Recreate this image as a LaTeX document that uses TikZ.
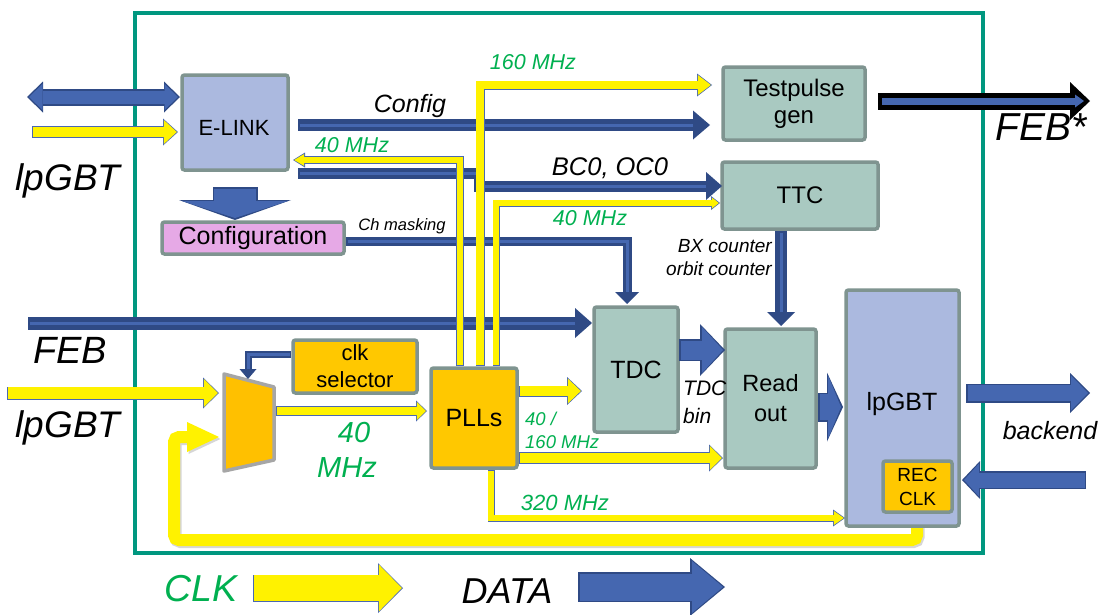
\documentclass[tikz,border=0pt]{standalone}
\usepackage{fontspec}
\setmainfont{Liberation Sans}
\setsansfont{Liberation Sans}
\usetikzlibrary{arrows.meta,calc}
\definecolor{dk}{HTML}{2F4A85}
\definecolor{md}{HTML}{4567B0}
\definecolor{ckedge}{HTML}{4A68B2}
\definecolor{boxedge}{HTML}{7F9490}
\definecolor{bluefill}{HTML}{ABB9DF}
\definecolor{tealfill}{HTML}{A9C9C1}
\definecolor{orng}{HTML}{FFC800}
\definecolor{pinkfill}{HTML}{E6A9E6}
\definecolor{framec}{HTML}{00977F}
\definecolor{grn}{HTML}{00B050}
\definecolor{muxfill}{HTML}{FFC000}
\definecolor{muxedge}{HTML}{A6A6A6}
\newcommand\fsz[2]{\fontsize{#1pt}{#2pt}\selectfont}
\tikzset{
  box/.style={draw=boxedge, line width=3.5pt, rounded corners=2.5pt, inner sep=0pt, align=center},
  lbl/.style={inner sep=0pt},
  glbl/.style={inner sep=0pt, text=grn},
  ck/.style n args={6}{draw=ckedge, line width=#1, -{Triangle[width=#2,length=#3,line width=0pt]},
     postaction={draw=yellow, line width=#4, -{Triangle[width=#5,length=#6,line width=0pt]}, shorten >=1.2pt, shorten <=0.8pt}},
  td/.style n args={3}{draw=dk, line width=#1, -{Triangle[width=#2,length=#3,line width=0pt]},
     postaction={draw=md, line width=3pt, -, shorten >=#3, shorten <=1.5pt}},
  fat/.style n args={6}{draw=dk, line width=#1, -{Triangle[width=#2,length=#3,line width=0pt]},
     postaction={draw=md, line width=#4, -{Triangle[width=#5,length=#6,line width=0pt]}, shorten >=2pt, shorten <=1.5pt}},
  fatb/.style n args={6}{draw=dk, line width=#1, {Triangle[width=#2,length=#3,line width=0pt]}-{Triangle[width=#2,length=#3,line width=0pt]},
     postaction={draw=md, line width=#4, {Triangle[width=#5,length=#6,line width=0pt]}-{Triangle[width=#5,length=#6,line width=0pt]}, shorten >=2pt, shorten <=2pt}},
}
\begin{document}
\begin{tikzpicture}[x=1pt,y=-1pt]
\useasboundingbox (0,0) rectangle (1099,614);
\fill[white] (0,0) rectangle (1099,614);

% frame
\draw[draw=framec, line width=4pt] (135,13) rectangle (983,553);

% REC CLK feedback loop (under boxes)
\coordinate (rcS) at (917,505);
\coordinate (rc1) at (917,540);
\coordinate (rc2) at (174,540);
\coordinate (rc3) at (174,437);
\coordinate (muxIn2) at (219,437);
\draw[black!45, opacity=0.35, line width=12pt, rounded corners=5pt, -{Triangle[width=30pt,length=32pt,line width=0pt]}, transform canvas={shift={(1.5pt,-2pt)}}] (rcS) -- (rc1) -- (rc2) -- (rc3) -- (muxIn2);
\draw[yellow, line width=12pt, rounded corners=5pt, -{Triangle[width=30pt,length=32pt,line width=0pt]}] (rcS) -- (rc1) -- (rc2) -- (rc3) -- (muxIn2);

% boxes
\node[box, fill=bluefill, minimum width=106pt, minimum height=95pt] (elink) at (235,122.5) {};
\node[lbl, anchor=base, font=\fsz{22}{26}] (elinktxt) at (234,135) {E-LINK};
\node[box, fill=pinkfill, minimum width=182pt, minimum height=32pt, font=\fsz{25}{28}] (cfg) at (253,238) {Configuration};
\node[box, fill=tealfill, minimum width=142pt, minimum height=73pt, font=\fsz{24}{27}] (tp) at (794,103.5) {Testpulse\\gen};
\node[box, fill=tealfill, minimum width=156pt, minimum height=67pt, font=\fsz{24}{27}] (ttc) at (800,195.5) {TTC};
\node[box, fill=tealfill, minimum width=84pt, minimum height=125pt, font=\fsz{25}{28}] (tdc) at (636,369.5) {TDC};
\node[box, fill=tealfill, minimum width=91pt, minimum height=139pt, font=\fsz{23.5}{30}] (ro) at (770.5,398.5) {Read\\out};
\node[box, fill=bluefill, minimum width=113pt, minimum height=236pt] (lp) at (902.5,408) {};
\node[lbl, font=\fsz{25}{28}] (lptxt) at (902,404) {lpGBT};
\node[box, fill=orng, minimum width=69pt, minimum height=51pt, font=\fsz{19}{24}] (rec) at (917.5,486.5) {REC\\CLK};
\node[box, fill=orng, minimum width=124pt, minimum height=53pt, font=\fsz{22}{27}] (cs) at (355,366.5) {clk\\selector};
\node[box, fill=orng, minimum width=86pt, minimum height=100pt, font=\fsz{25}{28}] (pll) at (474,418) {PLLs};

% mux
\coordinate (mux-nw) at (224,374);
\coordinate (mux-ne) at (274,387);
\coordinate (mux-se) at (274,460);
\coordinate (mux-sw) at (224,471);
\draw[draw=muxedge, fill=muxfill, line width=3.5pt, line join=round] (mux-nw) -- (mux-ne) -- (mux-se) -- (mux-sw) -- cycle;

% ---------- thin data connectors ----------
\coordinate (cfgS) at (298,125);
\coordinate (cfgE) at (710,125);
\draw[td={12pt}{29pt}{17pt}] (cfgS) -- (cfgE);

\coordinate (bcS) at (298,173);
\coordinate (bc1) at (479,173);
\coordinate (bc2) at (479,186);
\coordinate (bcE) at (722,186);
\draw[td={11pt}{28pt}{16pt}] (bcS) -- (bc1) -- (bc2) -- (bcE);

\coordinate (chS) at (346,241);
\coordinate (ch1) at (627,241);
\coordinate (chE) at (627,304);
\draw[td={9pt}{24pt}{12pt}] (chS) -- (ch1) -- (chE);

\coordinate (febS) at (28,323);
\coordinate (febE) at (592,323);
\draw[td={13pt}{30pt}{17pt}] (febS) -- (febE);

\coordinate (ttcS) at (781,231);
\coordinate (ttcE) at (781,326);
\draw[td={12pt}{28pt}{14pt}] (ttcS) -- (ttcE);

\coordinate (csS) at (291,354);
\coordinate (cs1) at (248,354);
\coordinate (csE) at (248,379);
\draw[td={7pt}{17pt}{10pt}] (csS) -- (cs1) -- (csE);

% ---------- clock connectors ----------
\coordinate (lpB) at (32,132);
\coordinate (lpBE) at (178,132);
\draw[ck={12pt}{27pt}{15pt}{10.4pt}{24pt}{13pt}] (lpB) -- (lpBE);

\coordinate (p1) at (460,366);
\coordinate (p1a) at (460,160);
\coordinate (p1E) at (293,160);
\draw[ck={8pt}{15pt}{12pt}{6.4pt}{12pt}{10pt}] (p1) -- (p1a) -- (p1E);

\coordinate (p2) at (480,366);
\coordinate (p2a) at (480,85);
\coordinate (p2E) at (712,85);
\draw[ck={9pt}{23pt}{15pt}{7.4pt}{20pt}{13pt}] (p2) -- (p2a) -- (p2E);

\coordinate (p3) at (496,366);
\coordinate (p3a) at (496,203);
\coordinate (p3E) at (720,203);
\draw[ck={7pt}{14pt}{9pt}{5.4pt}{11pt}{7pt}] (p3) -- (p3a) -- (p3E);

\coordinate (lpC) at (7,393);
\coordinate (muxIn1) at (219,393);
\draw[ck={13pt}{31pt}{16pt}{11.4pt}{28pt}{14pt}] (lpC) -- (muxIn1);

\coordinate (muxOut) at (276,411);
\coordinate (pllIn) at (427,411);
\draw[ck={10pt}{21pt}{11pt}{8.4pt}{18pt}{9pt}] (muxOut) -- (pllIn);

\coordinate (pt1) at (519,391);
\coordinate (pt1E) at (582,391);
\draw[ck={11pt}{28pt}{15pt}{9.4pt}{25pt}{13pt}] (pt1) -- (pt1E);

\coordinate (pt2) at (519,458);
\coordinate (pt2E) at (723,458);
\draw[ck={12pt}{27pt}{14pt}{10.4pt}{24pt}{12pt}] (pt2) -- (pt2E);

\coordinate (p4) at (491,470);
\coordinate (p4a) at (491,518);
\coordinate (p4E) at (845,518);
\draw[ck={7pt}{17pt}{12pt}{5.4pt}{14pt}{10pt}] (p4) -- (p4a) -- (p4E);

% ---------- fat data connectors ----------
\coordinate (lpA) at (27,97);
\coordinate (lpAE) at (180,97);
\draw[fatb={17pt}{31pt}{16pt}{13pt}{26pt}{13.5pt}] (lpA) -- (lpAE);

\coordinate (ecS) at (235,187);
\coordinate (ecE) at (235,220);
\draw[fat={45pt}{112pt}{20pt}{42pt}{106pt}{17pt}] (ecS) -- (ecE);

\coordinate (tdS) at (679,350);
\coordinate (tdE) at (725,350);
\draw[fat={22pt}{52pt}{25pt}{19pt}{46pt}{21pt}] (tdS) -- (tdE);

\coordinate (roS) at (818,407);
\coordinate (roE) at (843,407);
\draw[fat={29pt}{69pt}{16pt}{26pt}{63pt}{13pt}] (roS) -- (roE);

\coordinate (beS) at (966,393);
\coordinate (beE) at (1090,393);
\draw[fat={19pt}{40pt}{20pt}{16pt}{35pt}{17pt}] (beS) -- (beE);

\coordinate (bbS) at (1086,480);
\coordinate (bbE) at (962,480);
\draw[fat={18pt}{38pt}{18pt}{15pt}{33pt}{15pt}] (bbS) -- (bbE);

% FEB* output
\coordinate (fsS) at (878,101);
\coordinate (fsE) at (1090,101);
\draw[draw=black, line width=17pt, -{Triangle[width=38pt,length=20pt,line width=0pt]},
  postaction={draw=md, line width=7pt, -{Triangle[width=13pt,length=9pt,line width=0pt]}, shorten >=6pt, shorten <=4pt}] (fsS) -- (fsE);

% legend
\coordinate (lgC) at (253,588);
\coordinate (lgCE) at (403,588);
\draw[ck={27pt}{50pt}{25pt}{25.4pt}{47pt}{23pt}] (lgC) -- (lgCE);
\coordinate (lgD) at (578,587);
\coordinate (lgDE) at (725,587);
\draw[fat={30pt}{58pt}{35pt}{27pt}{52pt}{31pt}] (lgD) -- (lgDE);

% ---------- labels ----------
\node[lbl, anchor=base, font=\itshape\fsz{37}{40}] (t1) at (68,190) {lpGBT};
\node[lbl, anchor=base, font=\itshape\fsz{38}{40}] (t2) at (70,363) {FEB};
\node[lbl, anchor=base, font=\itshape\fsz{37}{40}] (t3) at (68,437) {lpGBT};
\node[lbl, anchor=base, font=\itshape\fsz{39}{40}] (t4) at (1041,140) {FEB*};
\node[lbl, anchor=base, font=\itshape\fsz{25}{28}] (t5) at (1050,439) {backend};
\node[lbl, anchor=base, font=\itshape\fsz{25}{28}] (t6) at (410,112) {Config};
\node[lbl, anchor=base, font=\itshape\fsz{25.5}{28}] (t7) at (610,175) {BC0, OC0};
\node[lbl, anchor=base, font=\itshape\fsz{16.5}{20}] (t8) at (402,230) {Ch masking};
\node[lbl, anchor=base east, font=\itshape\fsz{19}{22}] (t9) at (772,252) {BX counter};
\node[lbl, anchor=base east, font=\itshape\fsz{19}{22}] (t10) at (772,275) {orbit counter};
\node[lbl, anchor=base west, font=\itshape\fsz{21}{24}] (t11) at (683,395) {TDC};
\node[lbl, anchor=base west, font=\itshape\fsz{21}{24}] (t12) at (683,423) {bin};
\node[glbl, anchor=base, font=\itshape\fsz{21.5}{24}] (g1) at (533,69) {160 MHz};
\node[glbl, anchor=base, font=\itshape\fsz{21.5}{24}] (g2) at (352,152) {40 MHz};
\node[glbl, anchor=base, font=\itshape\fsz{21.5}{24}] (g3) at (590,225) {40 MHz};
\node[glbl, anchor=base west, font=\itshape\fsz{18.5}{22}] (g4) at (525,425) {40 /};
\node[glbl, anchor=base west, font=\itshape\fsz{18.5}{22}] (g5) at (525,448) {160 MHz};
\node[glbl, anchor=base, font=\itshape\fsz{22}{24}] (g6) at (565,510) {320 MHz};
\node[glbl, anchor=base, font=\itshape\fsz{29}{32}] (g7) at (354,442) {40};
\node[glbl, anchor=base, font=\itshape\fsz{29}{32}] (g8) at (347,477) {MHz};
\node[glbl, anchor=base, font=\itshape\fsz{37.5}{40}] (g9) at (201,601) {CLK};
\node[lbl, anchor=base, font=\itshape\fsz{36}{40}] (t13) at (507,603) {DATA};
\end{tikzpicture}
\end{document}
